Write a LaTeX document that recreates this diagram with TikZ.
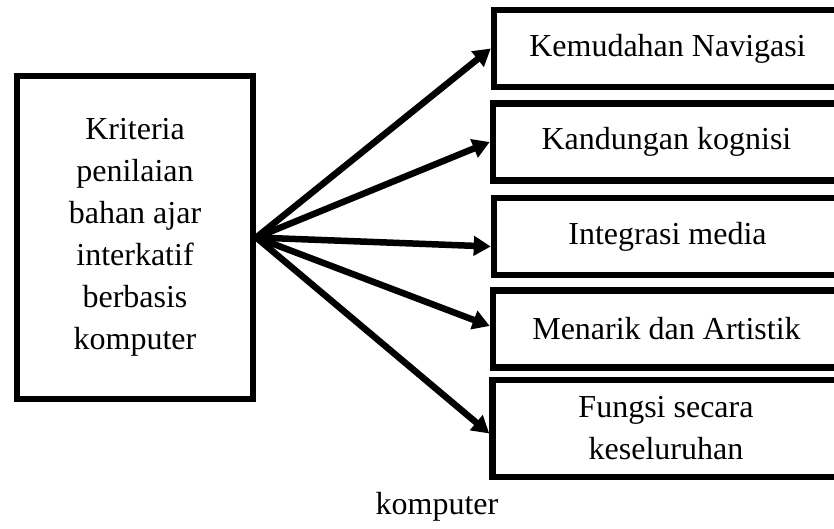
\documentclass[tikz,border=0pt]{standalone}
\usepackage{fontspec}
\setmainfont{Liberation Serif}
\usetikzlibrary{arrows.meta,positioning}

\begin{document}
\begin{tikzpicture}[
  x=1pt,y=-1pt,
  kb/.style={draw,line width=6.5pt,align=center,font=\fontsize{32}{42}\selectfont,
    inner sep=0pt},
  crit/.style={kb,minimum width=236pt,minimum height=323pt},
  item/.style={kb,minimum width=347pt,minimum height=77pt},
  a/.style={-{Triangle[length=17pt,width=19pt]},line width=6.5pt}
]
\useasboundingbox (0,0) rectangle (834,529);
\node[crit] (kriteria) at (135,237.5) {Kriteria\\penilaian\\bahan ajar\\interkatif\\berbasis\\komputer};
\node[item] (nav) at (667.5,48.5) {Kemudahan Navigasi};
\node[item] (kog) at (666.5,142) {Kandungan kognisi};
\node[item] (media) at (667.5,236.5) {Integrasi media};
\node[item] (menarik) at (666.5,329) {Menarik dan Artistik};
\node[item,minimum height=97pt] (fungsi) at (666,428.5) {Fungsi secara\\keseluruhan};
\node[font=\fontsize{32}{42}\selectfont,inner sep=0pt] (cap) at (437,507) {komputer};

\draw[a] (kriteria.east) -- (nav.west);
\draw[a] (kriteria.east) -- (kog.west);
\draw[a] (kriteria.east) -- ([yshift=-10pt]media.west);
\draw[a] (kriteria.east) -- ([yshift=3pt]menarik.west);
\draw[a] (kriteria.east) -- ([yshift=-5pt]fungsi.west);
\end{tikzpicture}
\end{document}
